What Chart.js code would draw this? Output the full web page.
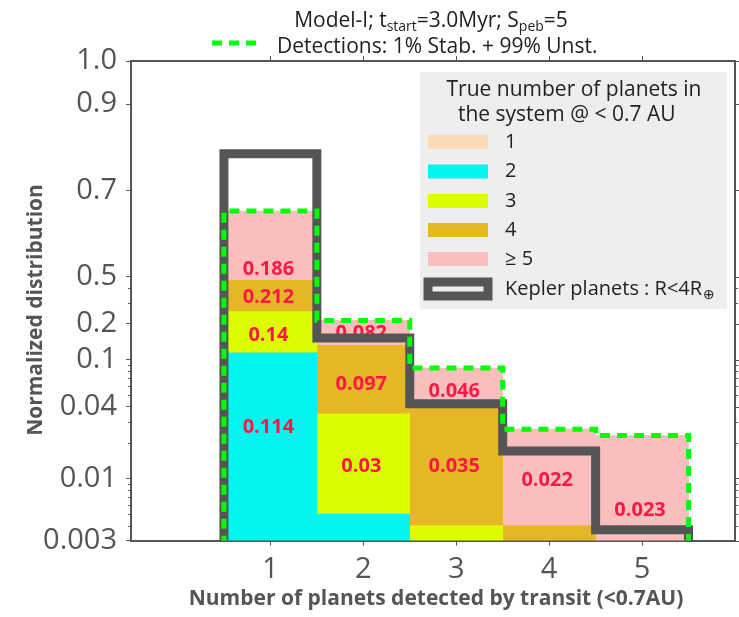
<!DOCTYPE html>
<html><head><meta charset="utf-8">
<script src="https://cdn.jsdelivr.net/npm/chart.js@4.4.1/dist/chart.umd.min.js"></script>
<style>html,body{margin:0;padding:0;background:#fff}#wrap{width:739px;height:617px;position:relative}</style>
</head><body><div id="wrap"><canvas id="c"></canvas></div>
<script>
// ---------- data ----------
const CATEGORIES = [1, 2, 3, 4, 5];                 // planets detected by transit
const SERIES_NAMES = ['1', '2', '3', '4', '\u2265 5']; // true number of planets
const N1 = [0, 0, 0, 0, 0];
const N2 = [0.114, 0.005, 0, 0, 0];
const N3 = [0.14, 0.03, 0.004, 0, 0];
const N4 = [0.212, 0.097, 0.035, 0.004, 0];
const N5PLUS = [0.186, 0.082, 0.046, 0.022, 0.023];
const KEPLER = [0.785, 0.152, 0.0426, 0.017, 0.0037];
const DETECTIONS = [0.652, 0.214, 0.085, 0.026, 0.023];
const Y_TICKS = [0.003, 0.01, 0.04, 0.1, 0.2, 0.5, 0.7, 0.9, 1.0];
const Y_TICK_LABELS = ['0.003', '0.01', '0.04', '0.1', '0.2', '0.5', '0.7', '0.9', '1.0'];
const Y_MINOR = [0.004, 0.005, 0.006, 0.007, 0.008, 0.009, 0.02, 0.03, 0.05, 0.06, 0.07, 0.08, 0.09, 0.3, 0.4];
const X_TICK_LABELS = ['1', '2', '3', '4', '5'];
const LEGEND_TITLE = ['True number of planets in', ' the system @ < 0.7 AU'];
const KEPLER_LABEL = 'Kepler planets : R<4R';
const TITLE_PARTS = [['Model-I; t', 0], ['start', 1], ['=3.0Myr; S', 0], ['peb', 1], ['=5', 0]];
const TITLE2 = 'Detections: 1% Stab. + 99% Unst.';
const X_TITLE = 'Number of planets detected by transit (<0.7AU)';
const Y_TITLE = 'Normalized distribution';

// ---------- styles ----------
const COLORS = ['#FDDAB6', '#00F6EF', '#DEFC00', '#E5B626', '#F9BFBF'];
const GRAY = '#555555';
const GREEN = '#00FF00';
const FONT = '"Open Sans", "DejaVu Sans", sans-serif';
const LABEL_FRAC = 0.21;   // value labels anchored a fraction of the way up each segment

// ---------- hybrid scale: log below 0.5, linear above ----------
const SPLIT = 0.5, LIN_GAIN = 3.633;
function tf(v) {
  v = Math.max(v, 1e-5);
  return v <= SPLIT ? Math.log10(v) : Math.log10(SPLIT) + (v - SPLIT) * LIN_GAIN;
}
function itf(t) {
  const ts = Math.log10(SPLIT);
  return t <= ts ? Math.pow(10, t) : SPLIT + (t - ts) / LIN_GAIN;
}
class HybridScale extends Chart.Scale {
  determineDataLimits() { this.min = this.options.min; this.max = this.options.max; }
  buildTicks() { return Y_TICKS.map(v => ({ value: v })); }
  configure() { super.configure(); this._t0 = tf(this.min); this._t1 = tf(this.max); }
  getPixelForValue(v) { return this.getPixelForDecimal((tf(v) - this._t0) / (this._t1 - this._t0)); }
  getValueForPixel(p) { return itf(this._t0 + this.getDecimalForPixel(p) * (this._t1 - this._t0)); }
  getLabelForValue(v) { return String(v); }
}
HybridScale.id = 'hybrid';
HybridScale.defaults = {};
Chart.register(HybridScale);

// ---------- datasets ----------
const stacks = [N1, N2, N3, N4, N5PLUS];
const datasets = stacks.map((arr, i) => ({
  type: 'bar', label: SERIES_NAMES[i], stack: 'truth', order: 2,
  data: CATEGORIES.map((c, j) => ({ x: c, y: arr[j] })),
  backgroundColor: COLORS[i], borderWidth: 0,
  barPercentage: 1, categoryPercentage: 1, clip: 0
}));
function stepPoints(vals) {
  const pts = [{ x: CATEGORIES[0] - 0.5, y: 0 }];
  CATEGORIES.forEach((c, j) => { pts.push({ x: c - 0.5, y: vals[j] }); pts.push({ x: c + 0.5, y: vals[j] }); });
  pts.push({ x: CATEGORIES[CATEGORIES.length - 1] + 0.5, y: 0 });
  return pts;
}
datasets.push({
  type: 'line', label: 'Kepler', order: 1, data: stepPoints(KEPLER),
  borderColor: GRAY, borderWidth: 9, pointRadius: 0, fill: false, tension: 0,
  borderJoinStyle: 'miter', borderCapStyle: 'butt', clip: 0
});
datasets.push({
  type: 'line', label: 'Detections', order: 0, data: stepPoints(DETECTIONS),
  borderColor: GREEN, borderWidth: 5, borderDash: [10, 7], pointRadius: 0, fill: false, tension: 0,
  borderJoinStyle: 'miter', borderCapStyle: 'butt', clip: 0
});

// ---------- extra drawing ----------
function drawBarLabels(chart) {
  const ctx = chart.ctx, ys = chart.scales.y;
  ctx.save();
  ctx.font = 'bold 20px ' + FONT; ctx.fillStyle = '#FF1744';
  ctx.textAlign = 'center'; ctx.textBaseline = 'alphabetic';
  const below = CATEGORIES.map(() => 0);
  stacks.forEach((arr, i) => {
    const meta = chart.getDatasetMeta(i);
    meta.data.forEach((el, j) => {
      const v = arr[j], b = below[j];
      below[j] += v;
      if (v < 0.01) return;
      ctx.fillText(String(v), el.x - 2, ys.getPixelForValue(b + LABEL_FRAC * v));
    });
  });
  ctx.restore();
}
function drawFrame(chart) {
  const ctx = chart.ctx, a = chart.chartArea, ys = chart.scales.y, xs = chart.scales.x;
  ctx.save();
  ctx.strokeStyle = GRAY; ctx.lineWidth = 2;
  ctx.beginPath();
  ctx.moveTo(a.left, a.top); ctx.lineTo(a.right, a.top); ctx.lineTo(a.right, a.bottom);
  ctx.stroke();
  ctx.lineWidth = 1;
  ctx.beginPath();
  Y_TICKS.forEach(v => { const p = Math.round(ys.getPixelForValue(v)) + 0.5; ctx.moveTo(a.right, p); ctx.lineTo(a.right + 5, p); });
  Y_MINOR.forEach(v => {
    const p = Math.round(ys.getPixelForValue(v)) + 0.5;
    ctx.moveTo(a.left - 3, p); ctx.lineTo(a.left, p);
    ctx.moveTo(a.right, p); ctx.lineTo(a.right + 3, p);
  });
  CATEGORIES.forEach(c => { const p = Math.round(xs.getPixelForValue(c)) + 0.5; ctx.moveTo(p, a.top); ctx.lineTo(p, a.top - 5); });
  ctx.stroke();
  ctx.restore();
}
function drawTitles(chart) {
  const ctx = chart.ctx;
  ctx.save();
  ctx.fillStyle = '#222'; ctx.textBaseline = 'alphabetic'; ctx.textAlign = 'left';
  const main = '21px ' + FONT, sub = '14px ' + FONT;
  let total = 0;
  TITLE_PARTS.forEach(p => { ctx.font = p[1] ? sub : main; total += ctx.measureText(p[0]).width; });
  let x = 431 - total / 2;
  TITLE_PARTS.forEach(p => { ctx.font = p[1] ? sub : main; ctx.fillText(p[0], x, p[1] ? 31 : 27); x += ctx.measureText(p[0]).width; });
  ctx.font = main;
  ctx.fillText(TITLE2, 277, 53);
  ctx.strokeStyle = GREEN; ctx.lineWidth = 5; ctx.setLineDash([10, 7]);
  ctx.beginPath(); ctx.moveTo(212, 43); ctx.lineTo(260, 43); ctx.stroke();
  ctx.restore();
}
function drawLegend(chart) {
  const ctx = chart.ctx;
  ctx.save();
  ctx.fillStyle = '#EEEEEE'; ctx.fillRect(420, 72, 307, 237);
  ctx.fillStyle = '#222'; ctx.font = '21px ' + FONT; ctx.textAlign = 'center'; ctx.textBaseline = 'alphabetic';
  ctx.fillText(LEGEND_TITLE[0], 574, 96);
  ctx.fillText(LEGEND_TITLE[1], 564, 121);
  ctx.textAlign = 'left'; ctx.textBaseline = 'middle'; ctx.font = '20px ' + FONT;
  const rows = [142, 171.5, 201, 230, 259];
  SERIES_NAMES.forEach((n, i) => {
    ctx.fillStyle = COLORS[i]; ctx.fillRect(428, rows[i] - 7, 60, 14);
    ctx.fillStyle = '#222'; ctx.fillText(n, 505, rows[i]);
  });
  ctx.strokeStyle = GRAY; ctx.lineWidth = 9;
  ctx.strokeRect(428, 282, 60, 14);
  ctx.fillStyle = '#222';
  ctx.fillText(KEPLER_LABEL, 505, 289);
  const w = ctx.measureText(KEPLER_LABEL).width;
  ctx.font = '14px "DejaVu Sans", sans-serif';
  ctx.fillText('\u2295', 505 + w + 1, 295);
  ctx.restore();
}
function drawAxisTitles(chart) {
  const ctx = chart.ctx;
  ctx.save();
  ctx.fillStyle = GRAY; ctx.font = 'bold 21px ' + FONT;
  ctx.textAlign = 'center'; ctx.textBaseline = 'middle';
  ctx.fillText(X_TITLE, 436, 599);
  ctx.translate(36, 310); ctx.rotate(-Math.PI / 2);
  ctx.fillText(Y_TITLE, 0, 0);
  ctx.restore();
}
const extras = {
  id: 'extras',
  beforeDatasetDraw(chart, args) { if (args.index === 5) drawBarLabels(chart); },
  afterDraw(chart) { drawFrame(chart); drawTitles(chart); drawLegend(chart); drawAxisTitles(chart); }
};

new Chart(document.getElementById('c'), {
  type: 'bar',
  data: { datasets },
  plugins: [extras],
  options: {
    responsive: true, maintainAspectRatio: false, animation: false,
    layout: { padding: { top: 61, right: 4, left: 0, bottom: 0 } },
    plugins: { legend: { display: false }, tooltip: { enabled: false }, title: { display: false } },
    scales: {
      x: {
        type: 'linear', min: -0.5, max: 6, offset: false,
        afterBuildTicks: s => { s.ticks = CATEGORIES.map(v => ({ value: v })); },
        afterFit: s => { s.height = 76.5; },
        ticks: { callback: (v, i) => X_TICK_LABELS[i], font: { family: FONT, size: 29 }, color: GRAY, padding: 7, autoSkip: false, maxRotation: 0 },
        grid: { offset: false, drawOnChartArea: false, drawTicks: true, tickLength: 5, tickColor: GRAY, tickWidth: 1 },
        border: { display: true, color: GRAY, width: 2 }
      },
      y: {
        type: 'hybrid', min: 0.003, max: 1.0,
        afterFit: s => { s.width = 131; },
        ticks: { callback: (v, i) => Y_TICK_LABELS[i], font: { family: FONT, size: 29 }, color: GRAY, padding: 9, autoSkip: false },
        grid: { drawOnChartArea: false, drawTicks: true, tickLength: 5, tickColor: GRAY, tickWidth: 1 },
        border: { display: true, color: GRAY, width: 2 }
      }
    }
  }
});
</script></body></html>
